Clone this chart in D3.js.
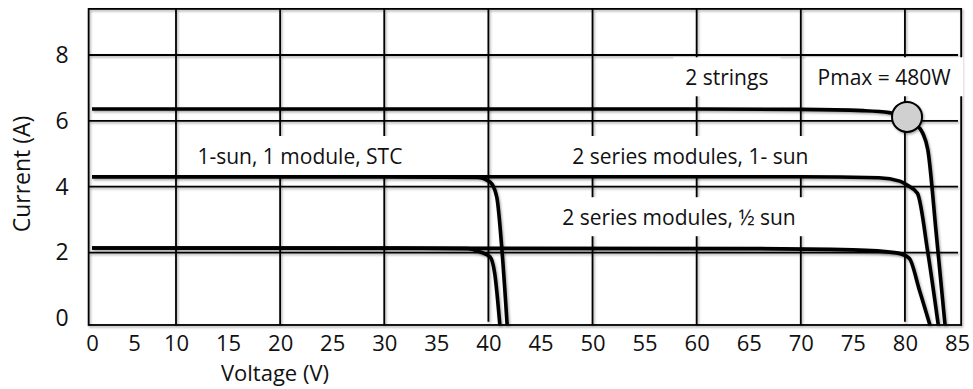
<!DOCTYPE html>
<html>
<head>
<meta charset="utf-8">
<script src="https://cdn.jsdelivr.net/npm/d3@7"></script>
<style>
  html, body { margin: 0; padding: 0; background: #fff; }
  svg { display: block; font-family: "Open Sans", sans-serif; }
</style>
</head>
<body>
<svg id="chart"></svg>
<script>
// axis ticks and grid
const voltTicks = [0, 5, 10, 15, 20, 25, 30, 35, 40, 45, 50, 55, 60, 65, 70, 75, 80, 85];
const ampTicks = [0, 2, 4, 6, 8];
const gridVolts = [10, 20, 30, 40, 50, 60, 70, 80];
const gridAmps = [2, 4, 6, 8];

// I-V curves (volts, amps)
const oneModSunV = [0, 30, 38.9, 40.15, 40.8, 41.3, 41.8];
const oneModSunI = [4.3, 4.3, 4.28, 4.14, 3.69, 2.08, -0.2];
const oneModHalfV = [0, 30, 38.0, 39.2, 40.15, 40.6, 41.1];
const oneModHalfI = [2.14, 2.14, 2.12, 2.02, 1.87, 1.38, -0.2];
const seriesSunV = [0, 70, 77.5, 79.5, 80.2, 81.2, 82.2, 83.2];
const seriesSunI = [4.3, 4.3, 4.27, 4.17, 4.05, 3.8, 2.0, -0.2];
const seriesHalfV = [0, 65, 75, 79.2, 80.4, 81.4, 82.4];
const seriesHalfI = [2.14, 2.12, 2.08, 1.99, 1.83, 0.85, -0.2];
const stringsV = [0, 60, 70, 76, 78.5, 80.2, 81.0, 81.7, 82.2, 83.0, 83.85];
const stringsI = [6.36, 6.36, 6.35, 6.31, 6.25, 6.12, 5.9, 5.63, 5.12, 2.6, -0.2];

const pmaxV = 80.2;
const pmaxI = 6.12;

// annotations (text centre volts, baseline amps)
const labelText = ["1-sun, 1 module, STC", "2 series modules, 1- sun", "2 series modules, \u00bd sun", "2 strings", "Pmax = 480W"];
const labelV = [21.9, 59.4, 58.3, 62.9, 78.0];
const labelI = [4.69, 4.69, 2.83, 7.08, 7.08];

const svgWidth = 973;
const svgHeight = 389;

const svg = d3.select("#chart").attr("width", svgWidth).attr("height", svgHeight);

// the drawing squeezes 0..10 V, so the scale is piecewise
const x = d3.scaleLinear().domain([0, 10, 85]).range([92, 176, 957]);
const y = d3.scaleLinear().domain([0, 8]).range([318.4, 55]);

const xLo = -0.4, xHi = 85.4, yLo = -0.2, yHi = 9.4;

const defs = svg.append("defs");
const shadow = defs.append("filter").attr("id", "shadow")
  .attr("x", "-5%").attr("y", "-5%").attr("width", "110%").attr("height", "110%");
shadow.append("feDropShadow")
  .attr("dx", 1.2).attr("dy", 1.5).attr("stdDeviation", 0.9)
  .attr("flood-color", "#000").attr("flood-opacity", 0.35);

const grid = svg.append("g").attr("filter", "url(#shadow)")
  .attr("stroke", "#000").attr("stroke-width", 1.8);

grid.selectAll(".vgrid")
  .data(gridVolts)
  .join("line")
  .attr("class", "vgrid")
  .attr("x1", d => x(d)).attr("x2", d => x(d))
  .attr("y1", y(yHi))
  .attr("y2", d => d % 40 === 0 ? y(-0.1) : y(yLo));

grid.selectAll(".hgrid")
  .data(gridAmps)
  .join("line")
  .attr("class", "hgrid")
  .attr("x1", x(xLo)).attr("x2", x(85.1))
  .attr("y1", d => y(d)).attr("y2", d => y(d));

grid.append("rect")
  .attr("x", x(xLo)).attr("y", y(yHi))
  .attr("width", x(xHi) - x(xLo)).attr("height", y(yLo) - y(yHi))
  .attr("fill", "none");

// label boxes hide the grid behind the text
const labels = svg.append("g").attr("font-size", 21).attr("fill", "#111");
labelText.forEach((t, i) => {
  const g = labels.append("g");
  const txt = g.append("text")
    .attr("x", x(labelV[i]))
    .attr("y", y(labelI[i]))
    .attr("text-anchor", "middle")
    .text(t);
  const bb = txt.node().getBBox();
  g.insert("rect", "text")
    .attr("x", bb.x - 12)
    .attr("y", y(labelI[i]) - 28)
    .attr("width", bb.width + 24)
    .attr("height", 39)
    .attr("fill", "#fff");
});

// curves
const curves = [
  [oneModSunV, oneModSunI],
  [oneModHalfV, oneModHalfI],
  [seriesSunV, seriesSunI],
  [seriesHalfV, seriesHalfI],
  [stringsV, stringsI],
];

const line = d3.line()
  .x(d => x(d[0]))
  .y(d => y(d[1]))
  .curve(d3.curveMonotoneX);

const curveG = svg.append("g").attr("filter", "url(#shadow)");
curveG.selectAll(".iv")
  .data(curves)
  .join("path")
  .attr("class", "iv")
  .attr("d", c => line(c[0].map((v, k) => [v, c[1][k]])))
  .attr("fill", "none")
  .attr("stroke", "#000")
  .attr("stroke-width", 3.6)
  .attr("stroke-linejoin", "round");

curveG.append("circle")
  .attr("cx", x(pmaxV))
  .attr("cy", y(pmaxI))
  .attr("r", 15)
  .attr("fill", "#d0d0d0")
  .attr("stroke", "#000")
  .attr("stroke-width", 2);

// axes
const xAxis = svg.append("g")
  .attr("transform", `translate(0, ${y(yLo)})`)
  .call(d3.axisBottom(x).tickValues(voltTicks).tickSize(0).tickPadding(10));
xAxis.select(".domain").remove();
xAxis.selectAll("text")
  .attr("font-family", "'Open Sans', sans-serif")
  .attr("font-size", 22)
  .attr("fill", "#111");

const yAxis = svg.append("g")
  .attr("transform", `translate(${x(xLo)}, 0)`)
  .call(d3.axisLeft(y).tickValues(ampTicks).tickSize(0).tickPadding(20));
yAxis.select(".domain").remove();
yAxis.selectAll("text")
  .attr("font-family", "'Open Sans', sans-serif")
  .attr("font-size", 23)
  .attr("fill", "#111");

svg.append("text")
  .attr("x", 275)
  .attr("y", 381)
  .attr("text-anchor", "middle")
  .attr("font-size", 22)
  .attr("fill", "#111")
  .text("Voltage (V)");

svg.append("text")
  .attr("transform", "translate(30, 174) rotate(-90)")
  .attr("text-anchor", "middle")
  .attr("font-size", 23)
  .attr("fill", "#111")
  .text("Current (A)");
</script>
</body>
</html>
